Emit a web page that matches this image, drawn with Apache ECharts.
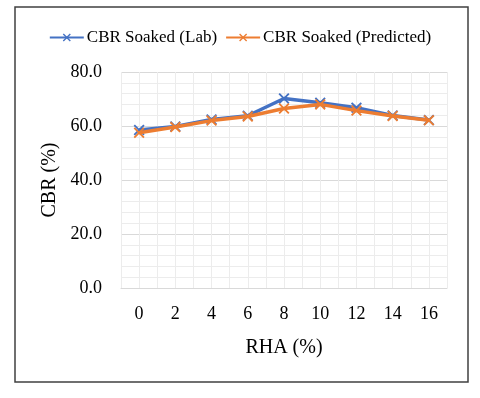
<!DOCTYPE html>
<html><head><meta charset="utf-8">
<script src="https://cdn.jsdelivr.net/npm/echarts@6/dist/echarts.min.js"></script>
<style>html,body{margin:0;padding:0;background:#fff}#c{width:480px;height:398px}</style>
</head><body><div id="c"></div>
<script>
var categories = ['0','2','4','6','8','10','12','14','16'];
var labValues = [58.5, 59.8, 62.4, 63.8, 70.2, 68.6, 66.8, 63.9, 62.2];
var predValues = [57.5, 59.6, 62.0, 63.5, 66.5, 68.0, 65.7, 63.7, 62.1];
var yTicks = [0, 20, 40, 60, 80];
var seriesNames = ['CBR Soaked (Lab)', 'CBR Soaked (Predicted)'];

var FONT = '"Liberation Serif", "Times New Roman", serif';
var xSym = 'path://M0,1.2L1.2,0L5,3.8L8.8,0L10,1.2L6.2,5L10,8.8L8.8,10L5,6.2L1.2,10L0,8.8L3.8,5Z';
var chart = echarts.init(document.getElementById('c'));
chart.setOption({
  animation: false,
  backgroundColor: '#fff',
  graphic: [{type:'rect', shape:{x:15, y:7, width:453, height:375}, style:{fill:'none', stroke:'#404040', lineWidth:1.5}, z:-1}],
  legend: {
    top: 24, left: 'center', itemWidth: 34, itemHeight: 10, itemGap: 8,
    textStyle: {fontFamily: FONT, fontSize: 17, color: '#000', padding: [0,0,0,-2]},
    data: seriesNames
  },
  grid: {left: 121, right: 33, top: 72, bottom: 110},
  xAxis: [{
    type: 'category', data: categories, boundaryGap: true,
    name: 'RHA (%)', nameLocation: 'middle', nameGap: 50,
    nameTextStyle: {fontFamily: FONT, fontSize: 20, color: '#000'},
    axisLine: {show: true, lineStyle: {color: '#d9d9d9'}},
    axisTick: {show: false},
    axisLabel: {fontFamily: FONT, fontSize: 18, color: '#000', margin: 17},
    splitLine: {show: true, lineStyle: {color: '#d9d9d9', width: 1}}
  }, {
    type: 'value', min: 0, max: 18, interval: 1, show: true, position: 'bottom',
    axisLine: {show: false}, axisTick: {show: false}, axisLabel: {show: false},
    splitLine: {show: true, lineStyle: {color: '#ececec', width: 1}}, z: 0
  }],
  yAxis: {
    type: 'value', min: 0, max: 80, interval: 20,
    name: 'CBR (%)', nameLocation: 'middle', nameGap: 60,
    nameTextStyle: {fontFamily: FONT, fontSize: 20, color: '#000'},
    axisLine: {show: false}, axisTick: {show: false},
    axisLabel: {fontFamily: FONT, fontSize: 18, color: '#000', margin: 19,
      formatter: function(v){ return v.toFixed(1); }},
    splitLine: {show: true, lineStyle: {color: '#d9d9d9'}},
    minorTick: {show: false, splitNumber: 5},
    minorSplitLine: {show: true, lineStyle: {color: '#ececec'}}
  },
  series: [{
    name: seriesNames[0], type: 'line', data: labValues, xAxisIndex: 0,
    symbol: xSym, symbolSize: 11, showAllSymbol: true,
    lineStyle: {color: '#4472C4', width: 3.5},
    itemStyle: {color: '#4472C4'}, z: 2
  }, {
    name: seriesNames[1], type: 'line', data: predValues, xAxisIndex: 0,
    symbol: xSym, symbolSize: 11, showAllSymbol: true,
    lineStyle: {color: '#ED7D31', width: 3.5},
    itemStyle: {color: '#ED7D31'}, z: 3
  }]
});
</script></body></html>
